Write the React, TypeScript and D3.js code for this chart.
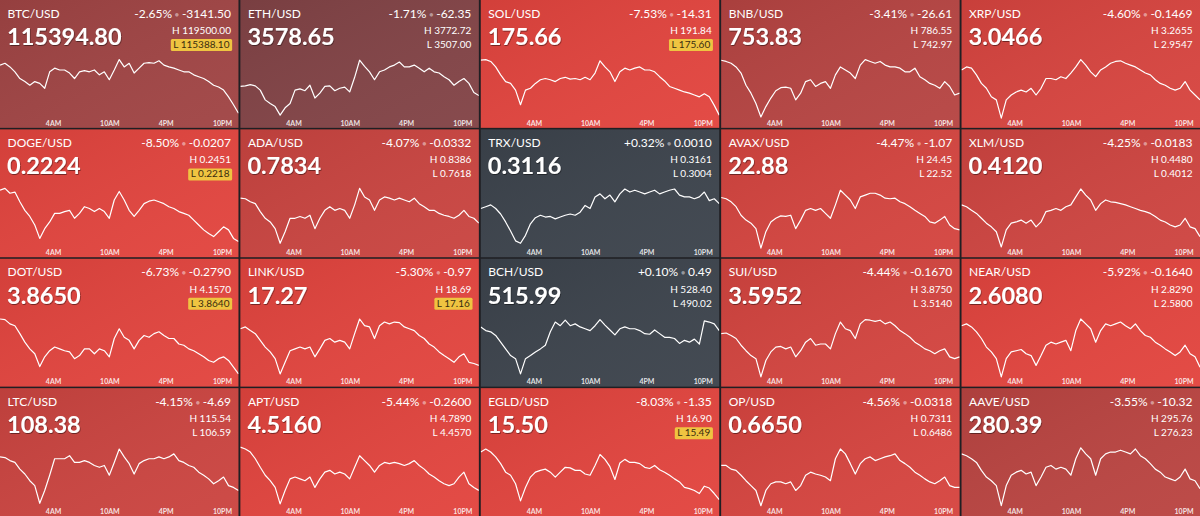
import { useEffect, useRef } from "react";
import * as d3 from "d3";

// ---- data ----
const PAIRS = [
  "BTC/USD", "ETH/USD", "SOL/USD", "BNB/USD", "XRP/USD",
  "DOGE/USD", "ADA/USD", "TRX/USD", "AVAX/USD", "XLM/USD",
  "DOT/USD", "LINK/USD", "BCH/USD", "SUI/USD", "NEAR/USD",
  "LTC/USD", "APT/USD", "EGLD/USD", "OP/USD", "AAVE/USD",
];
const PRICES = [
  115394.8, 3578.65, 175.66, 753.83, 3.0466,
  0.2224, 0.7834, 0.3116, 22.88, 0.412,
  3.865, 17.27, 515.99, 3.5952, 2.608,
  108.38, 4.516, 15.5, 0.665, 280.39,
];
const DECIMALS = [2, 2, 2, 2, 4, 4, 4, 4, 2, 4, 4, 2, 2, 4, 4, 2, 4, 2, 4, 2];
const PCT_CHANGE = [
  -2.65, -1.71, -7.53, -3.41, -4.6,
  -8.5, -4.07, 0.32, -4.47, -4.25,
  -6.73, -5.3, 0.1, -4.44, -5.92,
  -4.15, -5.44, -8.03, -4.56, -3.55,
];
const CHANGE = [
  -3141.5, -62.35, -14.31, -26.61, -0.1469,
  -0.0207, -0.0332, 0.001, -1.07, -0.0183,
  -0.279, -0.97, 0.49, -0.167, -0.164,
  -4.69, -0.26, -1.35, -0.0318, -10.32,
];
const HIGH = [
  119500.0, 3772.72, 191.84, 786.55, 3.2655,
  0.2451, 0.8386, 0.3161, 24.45, 0.448,
  4.157, 18.69, 528.4, 3.875, 2.829,
  115.54, 4.789, 16.9, 0.7311, 295.76,
];
const LOW = [
  115388.1, 3507.0, 175.6, 742.97, 2.9547,
  0.2218, 0.7618, 0.3004, 22.52, 0.4012,
  3.864, 17.16, 490.02, 3.514, 2.58,
  106.59, 4.457, 15.49, 0.6486, 276.23,
];

// sparkline position within the drawn range (0 = chart bottom, 100 = chart top)
const BTC_LINE = [90,93,87,79,68,63,57,63,60,52,79,85,82,82,77,68,79,81,79,82,74,79,66,82,99,87,93,77,85,93,94,93,97,90,87,85,82,79,79,74,71,68,63,57,54,49,38,25,11];
const ETH_LINE = [55,56,58,56,49,33,27,22,8,20,27,49,51,48,57,36,44,55,56,48,52,54,46,70,98,88,79,66,79,82,87,90,95,87,87,90,85,79,85,79,77,71,66,57,63,68,60,45,40];
const SOL_LINE = [98,99,96,87,74,63,60,49,25,49,52,60,66,68,66,63,68,70,67,68,66,70,66,77,97,87,79,63,79,85,82,85,87,82,82,79,71,64,55,52,49,46,44,41,38,43,38,24,8];
const BNB_LINE = [98,96,93,87,77,57,44,27,5,22,36,48,53,54,52,33,44,63,66,55,60,63,52,74,87,82,77,68,90,99,96,93,96,90,87,87,85,79,79,85,71,66,60,57,52,63,55,41,44];
const XRP_LINE = [82,87,85,74,60,52,38,33,3,33,41,46,49,46,52,41,52,68,68,66,71,68,77,87,99,90,79,71,82,87,93,96,97,93,90,87,82,77,74,66,60,57,52,49,52,63,49,41,33];
const DOGE_LINE = [97,100,92,94,78,64,54,40,18,34,45,59,59,62,64,51,59,70,67,62,67,62,51,81,95,81,64,54,64,75,79,81,78,75,70,67,62,59,56,48,40,32,26,21,29,37,32,18,13];
const ADA_LINE = [84,83,78,75,62,51,45,34,10,29,51,51,54,51,56,34,51,64,70,64,67,64,51,73,100,86,81,64,81,86,84,81,84,81,78,84,75,70,64,64,59,56,54,51,56,64,54,51,43];
const TRX_LINE = [67,70,73,67,58,45,30,14,10,23,42,52,56,53,54,50,53,56,58,56,61,72,67,86,91,83,89,78,91,99,94,97,94,91,94,97,91,94,97,99,89,86,86,83,86,94,80,83,75];
const AVAX_LINE = [85,83,78,70,56,48,43,34,2,29,45,51,55,54,56,34,48,64,67,64,67,59,51,73,97,89,81,67,86,89,92,92,89,84,83,84,78,75,70,64,59,54,45,43,48,54,40,34,32];
const XLM_LINE = [73,70,64,59,51,43,37,29,4,32,43,45,48,43,48,37,45,62,64,67,64,70,73,86,99,89,81,64,75,81,78,77,75,73,70,67,64,62,59,54,48,45,40,37,40,51,37,34,21];
const DOT_LINE = [98,97,90,87,74,60,49,41,20,36,46,52,49,46,44,33,38,49,49,41,49,46,36,66,82,68,63,49,63,71,68,74,77,71,66,66,57,55,49,46,41,36,30,27,33,36,30,19,8];
const LINK_LINE = [82,85,79,74,63,52,44,33,8,27,46,49,52,49,52,36,49,63,66,60,63,60,49,74,98,87,85,66,87,93,90,93,92,85,82,79,71,66,57,52,44,38,33,27,36,41,27,25,22];
const BCH_LINE = [85,79,77,71,60,49,38,33,8,33,38,44,49,55,77,93,87,96,87,90,85,82,79,87,97,88,80,72,82,85,82,82,79,74,73,80,74,68,68,66,58,63,60,65,57,95,93,90,79];
const SUI_LINE = [74,75,71,66,55,46,38,33,3,30,44,52,53,49,52,36,46,60,66,55,57,57,49,74,93,82,79,66,90,97,96,94,96,90,93,87,79,74,68,60,55,49,46,41,46,49,36,33,36];
const NEAR_LINE = [87,90,85,77,66,52,44,33,3,33,44,46,48,41,38,22,38,55,60,57,60,63,46,79,98,90,82,60,79,90,87,90,93,87,82,90,79,71,68,60,55,49,44,38,44,55,41,36,19];
const LTC_LINE = [84,83,78,75,64,56,45,37,8,29,54,81,81,81,86,75,75,78,75,70,67,70,54,75,97,84,73,56,73,78,81,81,84,81,84,89,78,75,70,67,59,54,48,40,45,51,37,34,29];
const APT_LINE = [100,97,92,81,67,54,45,34,7,29,48,51,48,45,51,34,48,59,62,56,59,56,48,67,86,78,70,59,70,75,73,75,73,70,73,78,70,64,56,51,45,40,37,40,51,59,40,34,29];
const EGLD_LINE = [92,97,92,84,73,59,54,40,12,34,51,59,62,64,59,51,59,67,66,62,62,56,54,70,88,80,68,47,74,80,75,75,73,67,65,70,63,59,54,48,43,34,32,29,24,36,33,24,14];
const OP_LINE = [70,70,64,62,54,45,37,29,4,29,40,43,43,40,43,29,37,54,59,56,54,51,45,81,97,89,73,56,73,81,84,78,81,84,86,89,78,73,67,59,54,48,43,40,45,51,37,34,34];
const AAVE_LINE = [89,86,81,75,62,51,45,37,4,37,54,59,62,56,59,37,51,67,70,64,67,64,54,81,99,89,81,54,81,89,92,92,95,92,89,97,86,81,73,64,59,51,48,45,51,64,48,45,32];

const SERIES = [
  BTC_LINE, ETH_LINE, SOL_LINE, BNB_LINE, XRP_LINE,
  DOGE_LINE, ADA_LINE, TRX_LINE, AVAX_LINE, XLM_LINE,
  DOT_LINE, LINK_LINE, BCH_LINE, SUI_LINE, NEAR_LINE,
  LTC_LINE, APT_LINE, EGLD_LINE, OP_LINE, AAVE_LINE,
];

// time window shown by each sparkline, and the hour ticks
const WINDOW_START = new Date(2025, 6, 22, 22, 17);
const WINDOW_END = new Date(2025, 6, 23, 23, 42);
const TICK_HOURS = [4, 10, 16, 22];

const W = 1200;
const H = 516;
const FONT = "Lato, 'Open Sans', sans-serif";

export default function App() {
  const ref = useRef<SVGSVGElement>(null);

  useEffect(() => {
    if (!ref.current) return;
    const svg = d3.select(ref.current);
    svg.selectAll("*").remove();

    svg.append("rect").attr("width", W).attr("height", H).attr("fill", "#1f1f23");

    const defs = svg.append("defs");
    const shade = defs.append("linearGradient").attr("id", "shade")
      .attr("x1", 0).attr("y1", 0).attr("x2", 1).attr("y2", 1);
    shade.append("stop").attr("offset", 0).attr("stop-color", "#000").attr("stop-opacity", 0.07);
    shade.append("stop").attr("offset", 1).attr("stop-color", "#fff").attr("stop-opacity", 0.04);
    const shadow = defs.append("filter").attr("id", "txtShadow")
      .attr("x", "-10%").attr("y", "-20%").attr("width", "130%").attr("height", "160%");
    shadow.append("feDropShadow").attr("dx", 0.6).attr("dy", 1)
      .attr("stdDeviation", 0.7).attr("flood-color", "#000").attr("flood-opacity", 0.45);

    const col = d3.scaleBand<number>().domain(d3.range(5)).range([0, W]).paddingInner(0.008);
    const row = d3.scaleBand<number>().domain(d3.range(4)).range([0, H]).paddingInner(0.012);
    const tw = col.bandwidth();
    const th = row.bandwidth();

    const heat = d3.scalePow().exponent(0.8).domain([0, 5]).range([0, 1]).clamp(true);
    const tint = d3.interpolateRgb("#3c434c", "#e2443e");

    const times = d3.range(BTC_LINE.length).map(
      (i) => new Date(+WINDOW_START + (i * (+WINDOW_END - +WINDOW_START)) / (BTC_LINE.length - 1))
    );
    const x = d3.scaleTime().domain([WINDOW_START, WINDOW_END]).range([0, tw]);
    const y = d3.scaleLinear().domain([0, 100]).range([120, 59]);
    const ticks = TICK_HOURS.map((h) => new Date(2025, 6, 23, h));
    const fmtTick = d3.timeFormat("%-I%p");

    const line = d3.line<number>()
      .x((_, i) => x(times[i]))
      .y((d) => y(d));

    PAIRS.forEach((pair, i) => {
      const c = i % 5;
      const r = Math.floor(i / 5);
      const g = svg.append("g").attr("transform", `translate(${col(c)},${row(r)})`);
      const dec = DECIMALS[i];
      const fmt = (v: number) => v.toFixed(dec);

      defs.append("clipPath").attr("id", `clip${i}`)
        .append("rect").attr("width", tw).attr("height", th);

      g.append("rect").attr("width", tw).attr("height", th)
        .attr("fill", tint(heat(Math.max(0, -PCT_CHANGE[i]))));
      g.append("rect").attr("width", tw).attr("height", th).attr("fill", "url(#shade)");

      const body = g.append("g").attr("clip-path", `url(#clip${i})`);

      body.append("path").datum(SERIES[i])
        .attr("fill", "none")
        .attr("stroke", "#fff")
        .attr("stroke-width", 1.2)
        .attr("stroke-linejoin", "round")
        .attr("d", line);

      body.selectAll("text.tick").data(ticks).join("text")
        .attr("class", "tick")
        .attr("x", (d) => x(d))
        .attr("y", 125.5)
        .attr("text-anchor", "middle")
        .attr("font-family", FONT)
        .attr("font-size", 7)
        .attr("font-weight", 700)
        .attr("fill", "#fff")
        .attr("fill-opacity", 0.85)
        .text((d) => fmtTick(d));

      g.append("text")
        .attr("x", 7.5).attr("y", 17.5)
        .attr("font-family", FONT).attr("font-size", 12)
        .attr("fill", "#fff")
        .text(pair);

      g.append("text")
        .attr("x", 7).attr("y", 45)
        .attr("font-family", FONT).attr("font-size", 23.5).attr("font-weight", 700)
        .attr("fill", "#fff")
        .attr("filter", "url(#txtShadow)")
        .text(fmt(PRICES[i]));

      const top = g.append("text")
        .attr("x", tw - 7.5).attr("y", 17.5)
        .attr("text-anchor", "end")
        .attr("font-family", FONT).attr("font-size", 12)
        .attr("fill", "#fff");
      const pct = PCT_CHANGE[i];
      top.append("tspan").text(`${pct > 0 ? "+" : ""}${pct.toFixed(2)}%`);
      top.append("tspan").attr("fill-opacity", 0.45).attr("font-size", 9).text(" \u2022 ");
      top.append("tspan").text(fmt(CHANGE[i]));

      g.append("text")
        .attr("x", tw - 7.5).attr("y", 34)
        .attr("text-anchor", "end")
        .attr("font-family", FONT).attr("font-size", 10)
        .attr("fill", "#fff")
        .text(`H ${fmt(HIGH[i])}`);

      const nearLow = (PRICES[i] - LOW[i]) / LOW[i] < 0.01;
      const lowText = g.append("text")
        .attr("x", tw - (nearLow ? 9 : 7.5)).attr("y", 48)
        .attr("text-anchor", "end")
        .attr("font-family", FONT).attr("font-size", 10)
        .attr("fill", nearLow ? "#3a2d10" : "#fff")
        .text(`L  ${fmt(LOW[i])}`);
      if (nearLow) {
        const bb = (lowText.node() as SVGTextElement).getBBox();
        g.insert("rect", () => lowText.node())
          .attr("x", bb.x - 2.5).attr("y", 39)
          .attr("width", bb.width + 5).attr("height", 12)
          .attr("rx", 1.5)
          .attr("fill", "#efc441");
      }
    });
  }, []);

  return (
    <>
      <style>{`body{margin:0;background:#1f1f23}`}</style>
      <svg ref={ref} width={W} height={H} style={{ display: "block" }} />
    </>
  );
}
